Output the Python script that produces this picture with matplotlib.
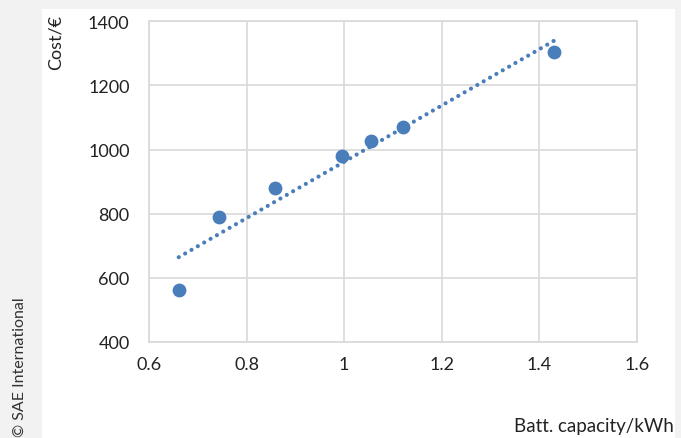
import numpy as np
import matplotlib.pyplot as plt
from matplotlib.patches import Rectangle

# Battery capacity vs cost
capacity_kwh = [0.661, 0.743, 0.858, 0.995, 1.054, 1.121, 1.430]
cost_eur = [563, 790, 880, 980, 1026, 1071, 1303]

blue = "#4a7ebb"
plt.rcParams["font.family"] = ["Lato", "DejaVu Sans"]

fig = plt.figure(figsize=(6.81, 4.39), dpi=100, facecolor="#f2f2f2")

# white card behind the chart
fig.patches.append(Rectangle((42 / 681, 0), 1 - 42 / 681 - 6 / 681, 1 - 10 / 439,
                             transform=fig.transFigure, facecolor="white",
                             edgecolor="none", zorder=0))

ax = fig.add_axes([149 / 681, 1 - 343 / 439, 488 / 681, (343 - 22.3) / 439])
ax.set_zorder(2)
ax.scatter(capacity_kwh, cost_eur, s=80, color=blue, zorder=3)

# linear trendline, round dots
slope, icpt = np.polyfit(capacity_kwh, cost_eur, 1)
xs = np.array([min(capacity_kwh), max(capacity_kwh)])
ax.plot(xs, slope * xs + icpt, color=blue, linestyle=(0, (0.01, 1.75)),
        linewidth=3, dash_capstyle="round", zorder=2)

ax.set_xlim(0.6, 1.6)
ax.set_ylim(400, 1400)
ax.set_xticks([0.6, 0.8, 1.0, 1.2, 1.4, 1.6])
ax.set_xticklabels(["0.6", "0.8", "1", "1.2", "1.4", "1.6"])
ax.set_yticks([400, 600, 800, 1000, 1200, 1400])
ax.grid(True, color="#d9d9d9", linewidth=1.2)
ax.set_axisbelow(True)
for sp in ax.spines.values():
    sp.set_color("#d9d9d9")
    sp.set_linewidth(1.2)
ax.tick_params(length=0, labelsize=13, colors="#222222", pad=14)
ax.tick_params(axis="x", pad=10)

fig.text(56 / 681, 1 - 42 / 439, "Cost/€", rotation=90, ha="center", va="center",
         fontsize=13, color="#222222")
fig.text(594 / 681, 1 - 427 / 439, "Batt. capacity/kWh", ha="center", va="center",
         fontsize=13.5, color="#222222")
fig.text(20 / 681, 1 - 367 / 439, "© SAE International", rotation=90,
         ha="center", va="center", fontsize=11.5, color="#333333")

fig.savefig("out.png", dpi=100, facecolor=fig.get_facecolor())
